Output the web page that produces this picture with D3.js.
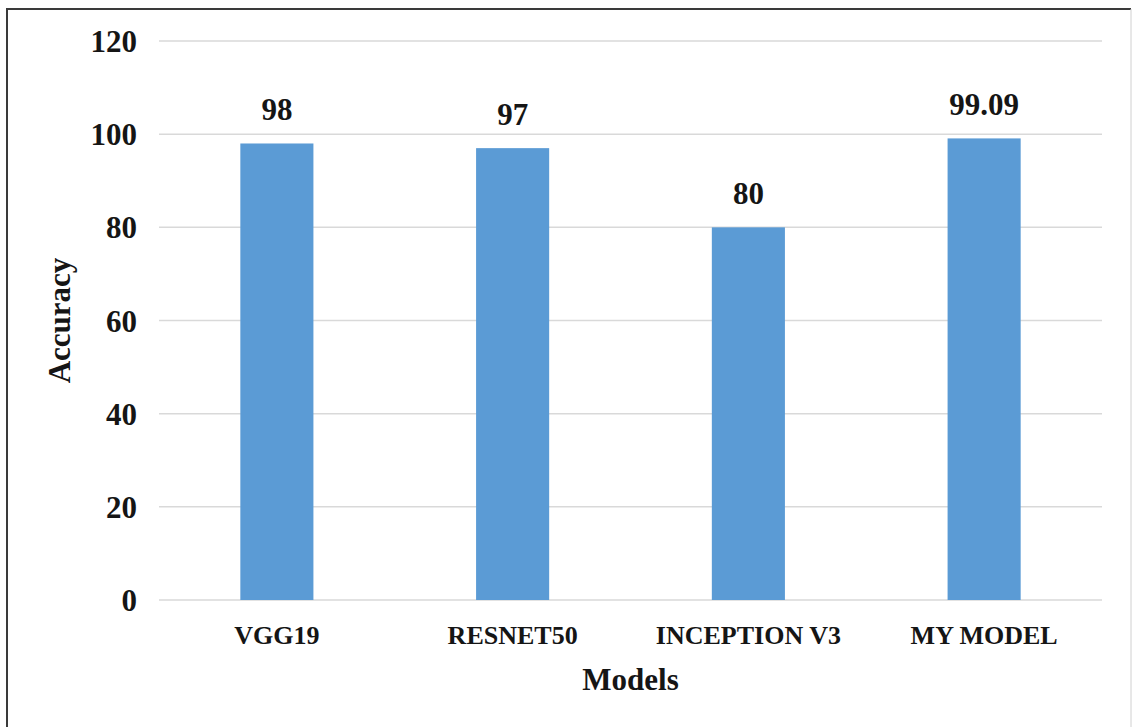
<!DOCTYPE html>
<html>
<head>
<meta charset="utf-8">
<script src="https://cdn.jsdelivr.net/npm/d3@7"></script>
<style>
  html, body { margin: 0; padding: 0; background: #fff; }
  svg { display: block; }
  text { font-family: "Liberation Serif", "Times New Roman", serif; font-weight: bold; fill: #151515; }
</style>
</head>
<body>
<svg id="chart" width="1134" height="727"></svg>
<script>
// Model accuracy comparison
const models = ["VGG19", "RESNET50", "INCEPTION V3", "MY MODEL"];
const accuracy = [98, 97, 80, 99.09];
const accuracyLabels = ["98", "97", "80", "99.09"];
const yTicks = [0, 20, 40, 60, 80, 100, 120];

const svg = d3.select("#chart");
const W = 1134, H = 727;
const plot = { left: 159, right: 1102, top: 41, bottom: 600 };

// Frame around the figure
svg.append("line").attr("x1", 7).attr("x2", 7).attr("y1", 8).attr("y2", H)
  .attr("stroke", "#3a3a3a").attr("stroke-width", 2);
svg.append("line").attr("x1", 6).attr("x2", 1131).attr("y1", 9).attr("y2", 9)
  .attr("stroke", "#3a3a3a").attr("stroke-width", 2);
svg.append("line").attr("x1", 1131).attr("x2", 1131).attr("y1", 9).attr("y2", H)
  .attr("stroke", "#d0d0d0").attr("stroke-width", 1);

const x = d3.scaleBand().domain(models).range([plot.left, plot.right]).paddingInner(0.69).paddingOuter(0.345);
const y = d3.scaleLinear().domain([0, 120]).range([plot.bottom, plot.top]);

// Horizontal gridlines
svg.append("g").selectAll("line").data(yTicks).join("line")
  .attr("x1", plot.left).attr("x2", plot.right)
  .attr("y1", d => y(d)).attr("y2", d => y(d))
  .attr("stroke", "#d9d9d9").attr("stroke-width", 1.5);

// Y axis tick labels
const yAxis = d3.axisLeft(y).tickValues(yTicks).tickSize(0).tickPadding(0).tickFormat(d3.format("d"));
const gy = svg.append("g").attr("transform", `translate(137,0)`).call(yAxis);
gy.select(".domain").remove();
gy.selectAll("text").attr("font-size", 31).attr("fill", "#151515")
  .attr("font-family", "Liberation Serif, Times New Roman, serif").attr("font-weight", "bold")
  .attr("dy", "0.34em");

// Bars
svg.append("g").selectAll("rect").data(models).join("rect")
  .attr("x", d => x(d)).attr("width", x.bandwidth())
  .attr("y", (d, i) => y(accuracy[i]))
  .attr("height", (d, i) => y(0) - y(accuracy[i]))
  .attr("fill", "#5b9bd5");

// Value labels
svg.append("g").selectAll("text").data(models).join("text")
  .attr("x", d => x(d) + x.bandwidth() / 2)
  .attr("y", (d, i) => y(accuracy[i]) - 23)
  .attr("text-anchor", "middle").attr("font-size", 31)
  .text((d, i) => accuracyLabels[i]);

// X axis category labels
const xAxis = d3.axisBottom(x).tickSize(0).tickPadding(0);
const gx = svg.append("g").attr("transform", `translate(0,${plot.bottom})`).call(xAxis);
gx.select(".domain").remove();
gx.selectAll("text").attr("font-size", 26).attr("fill", "#151515")
  .attr("font-family", "Liberation Serif, Times New Roman, serif").attr("font-weight", "bold")
  .attr("dy", null).attr("y", 44);

// Axis titles
svg.append("text").attr("x", (plot.left + plot.right) / 2).attr("y", 690)
  .attr("text-anchor", "middle").attr("font-size", 31).text("Models");
svg.append("text").attr("transform", `translate(70,${(plot.top + plot.bottom) / 2}) rotate(-90)`)
  .attr("text-anchor", "middle").attr("font-size", 31).text("Accuracy");
</script>
</body>
</html>
